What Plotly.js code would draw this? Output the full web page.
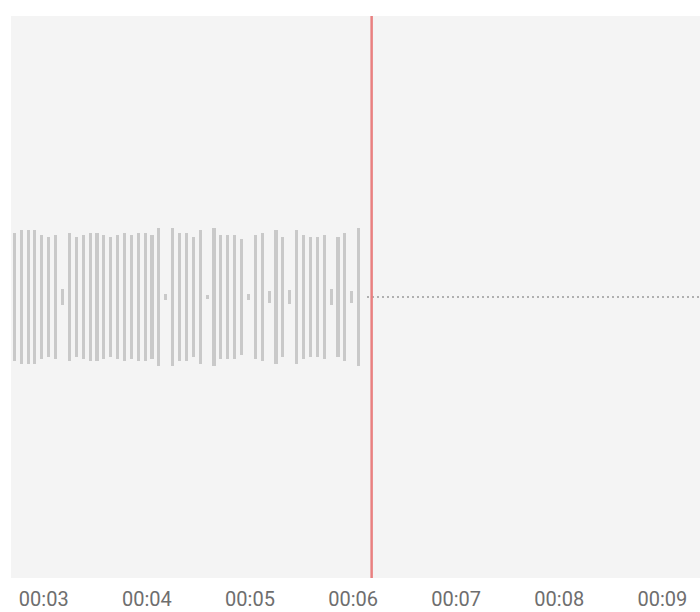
<!DOCTYPE html>
<html>
<head>
<meta charset="utf-8">
<script src="https://cdn.plot.ly/plotly-3.0.1.min.js"></script>
<style>html,body{margin:0;padding:0;background:#fff;}#chart{width:700px;height:612px;}</style>
</head>
<body>
<div id="chart"></div>
<script>
// sample times (seconds) of waveform bars
const times = [2.714,2.781,2.848,2.914,2.981,3.048,3.115,3.182,3.248,3.315,
  3.382,3.449,3.516,3.582,3.649,3.716,3.783,3.850,3.916,3.983,
  4.050,4.117,4.184,4.250,4.317,4.384,4.451,4.518,4.584,4.651,
  4.718,4.785,4.852,4.918,4.985,5.052,5.119,5.186,5.252,5.319,
  5.386,5.453,5.520,5.586,5.653,5.720,5.787,5.854,5.920,5.987,6.054];
// amplitude (half height) of each bar
const amplitudes = [0.228,0.237,0.237,0.237,0.221,0.214,0.221,0.028,0.228,0.214,
  0.221,0.228,0.228,0.221,0.214,0.221,0.228,0.221,0.228,0.228,
  0.221,0.244,0.011,0.244,0.228,0.228,0.214,0.237,0.007,0.244,
  0.221,0.221,0.221,0.205,0.012,0.221,0.228,0.021,0.237,0.214,
  0.025,0.237,0.221,0.214,0.214,0.221,0.028,0.214,0.228,0.021,0.244];
const playhead = 6.18;
const restStart = 6.135;
const restEnd = 9.4;
const tickVals = [3,4,5,6,7,8,9];
const tickText = ["00:03","00:04","00:05","00:06","00:07","00:08","00:09"];

const bars = {
  type: 'bar',
  x: times,
  y: amplitudes.map(a => 2 * a),
  base: amplitudes.map(a => -a),
  width: 0.03,
  marker: {color: '#c9c9c9', line: {width: 0}},
  hoverinfo: 'skip',
  showlegend: false
};
const rest = {
  type: 'scatter',
  mode: 'lines',
  x: [restStart, restEnd],
  y: [0, 0],
  line: {color: '#b0b0b0', width: 2, dash: '2px,3px'},
  hoverinfo: 'skip',
  showlegend: false
};

const layout = {
  width: 700,
  height: 612,
  margin: {l: 11, r: 0, t: 16, b: 34, pad: 0},
  paper_bgcolor: '#ffffff',
  plot_bgcolor: '#f4f4f4',
  showlegend: false,
  bargap: 0,
  xaxis: {
    range: [2.682, 9.365],
    tickvals: tickVals,
    ticktext: tickText,
    showgrid: false,
    zeroline: false,
    showline: false,
    ticks: '',
    ticklabelstandoff: 7,
    tickfont: {family: 'Roboto, sans-serif', size: 20, color: '#6e6e6e'}
  },
  yaxis: {
    range: [-1, 1],
    showgrid: false,
    zeroline: false,
    showline: false,
    showticklabels: false,
    ticks: ''
  },
  shapes: [{
    type: 'line',
    xref: 'x', yref: 'paper',
    x0: playhead, x1: playhead, y0: 0, y1: 1,
    line: {color: '#e98080', width: 2.5}
  }]
};

Plotly.newPlot('chart', [bars, rest], layout, {displayModeBar: false, staticPlot: true});
</script>
</body>
</html>
